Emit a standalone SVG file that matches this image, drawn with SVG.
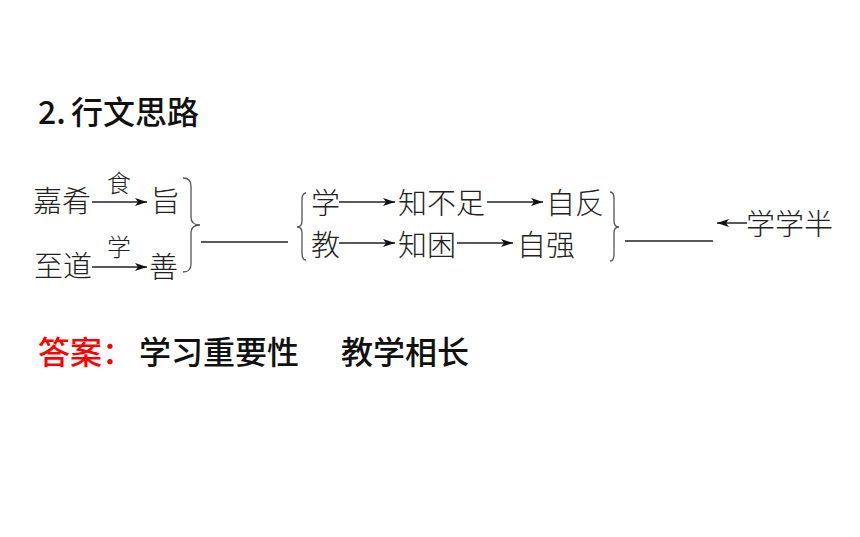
<svg xmlns="http://www.w3.org/2000/svg" width="860" height="537" viewBox="0 0 860 537">
<style>
.t{font-family:"Noto Sans CJK SC","Noto Sans",sans-serif;fill:#111;}
.h{font-size:32px;font-weight:500;}
.d{font-size:29px;fill:#222;font-weight:300;}
.s{font-size:24px;fill:#222;font-weight:300;}
.ln{stroke:#222;stroke-width:1.5;fill:none;}
.br{stroke:#555;stroke-width:1.3;fill:none;}
</style>
<defs>
<marker id="ah" viewBox="0 0 12 8" refX="12" refY="4" markerWidth="12" markerHeight="8" markerUnits="userSpaceOnUse" orient="auto">
<path d="M0,0 L12,4 L0,8 L3,4 Z" fill="#111"/>
</marker>
</defs>
<rect width="860" height="537" fill="#fff"/>
<g id="title"><text class="t h" x="38" y="124">2.</text><text class="t h" x="71" y="124">行文思路</text></g>
<g id="n-jiayao"><text class="t d" x="33" y="212">嘉肴</text></g>
<g id="n-zhi1"><text class="t d" x="151" y="212">旨</text></g>
<g id="n-zhidao"><text class="t d" x="34" y="277">至道</text></g>
<g id="n-shan"><text class="t d" x="149" y="278">善</text></g>
<g id="n-xue1"><text class="t d" x="311" y="214">学</text></g>
<g id="n-zhibuzu"><text class="t d" x="398" y="214">知不足</text></g>
<g id="n-zifan"><text class="t d" x="546" y="214">自反</text></g>
<g id="n-jiao"><text class="t d" x="311" y="256">教</text></g>
<g id="n-zhikun"><text class="t d" x="398" y="256">知困</text></g>
<g id="n-ziqiang"><text class="t d" x="517" y="256">自强</text></g>
<g id="n-xxb"><text class="t d" x="746" y="235">学学半</text></g>
<g id="answer"><text class="t h" x="38" y="364" style="fill:#ff0000">答案：</text><text class="t h" x="139" y="364">学习重要性</text><text class="t h" x="341" y="364">教学相长</text></g>
<g id="connectors">
<line class="ln" x1="92" y1="202" x2="147" y2="202" marker-end="url(#ah)"/>
<text class="t s" x="107" y="192">食</text>
<line class="ln" x1="92" y1="267" x2="147" y2="267" marker-end="url(#ah)"/>
<text class="t s" x="107" y="256">学</text>
<path class="br" d="M183,178 Q191,178 191,186 L191,217 Q191,225 200,225 Q191,225 191,233 L191,264 Q191,272 183,272"/>
<line class="ln" x1="201" y1="242" x2="288" y2="242"/>
<path class="br" d="M306,193 Q302,193 302,200 L302,221 Q302,227 297,227 Q302,227 302,233 L302,253 Q302,260 306,260"/>
<line class="ln" x1="339" y1="202" x2="395" y2="202" marker-end="url(#ah)"/>
<line class="ln" x1="487" y1="202" x2="543" y2="202" marker-end="url(#ah)"/>
<line class="ln" x1="339" y1="243" x2="395" y2="243" marker-end="url(#ah)"/>
<line class="ln" x1="457" y1="243" x2="513" y2="243" marker-end="url(#ah)"/>
<path class="br" d="M610,192 Q614,192 614,199 L614,221 Q614,227 619,227 Q614,227 614,233 L614,254 Q614,261 610,261"/>
<line class="ln" x1="625" y1="241" x2="713" y2="241"/>
<line class="ln" x1="747" y1="223" x2="717" y2="223" marker-end="url(#ah)"/>
</g>
</svg>
